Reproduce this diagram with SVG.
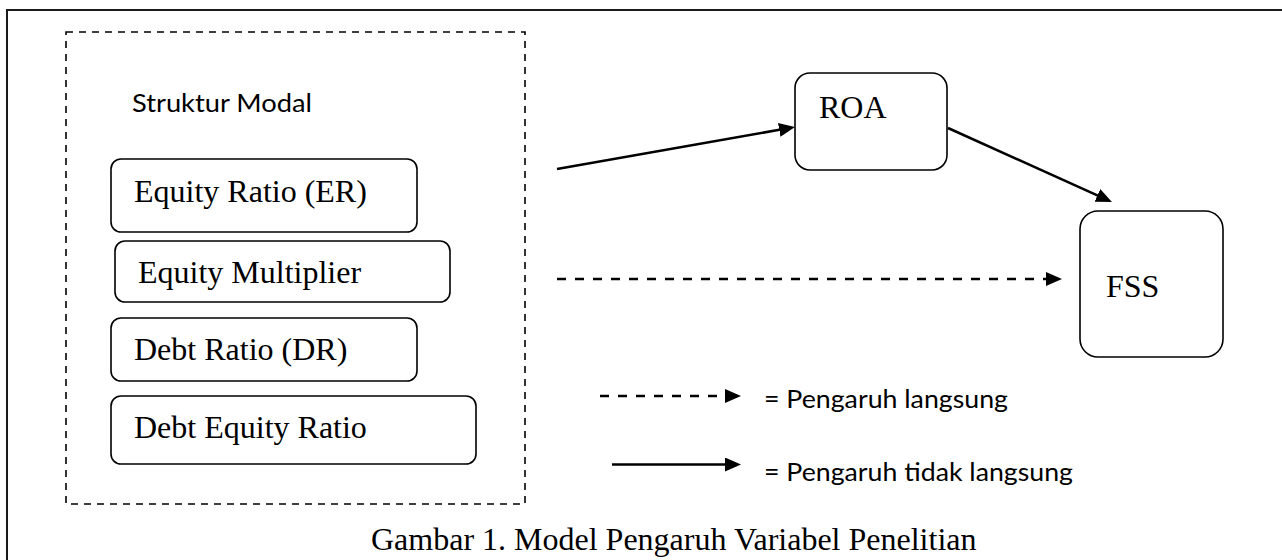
<svg xmlns="http://www.w3.org/2000/svg" width="1282" height="560" viewBox="0 0 1282 560">
  <defs>
    <style>
      .frame { fill: none; stroke: #1a1a1a; stroke-width: 2; }
      .group-box { fill: none; stroke: #000; stroke-width: 1.6; stroke-dasharray: 7 6; }
      .box { fill: #fff; stroke: #000; stroke-width: 1.6; }
      .serif { font-family: "Liberation Serif", "Times New Roman", serif; font-size: 32px; fill: #000; }
      .sans { font-family: Lato, "Open Sans", "Liberation Sans", sans-serif; font-size: 25px; fill: #000; }
      .solid { fill: none; stroke: #000; stroke-width: 2.5; marker-end: url(#head); }
      .dashed { fill: none; stroke: #000; stroke-width: 2.5; stroke-dasharray: 9 9; marker-end: url(#head); }
    </style>
    <marker id="head" viewBox="0 0 16 14" refX="3" refY="7" markerWidth="16" markerHeight="14" markerUnits="userSpaceOnUse" orient="auto">
      <path d="M0,0 L16,7 L0,14 Z" fill="#000"/>
    </marker>
  </defs>

  <rect width="1282" height="560" fill="#fff"/>

  <!-- outer frame, running past the right and bottom edges -->
  <rect class="frame" x="7" y="10" width="1300" height="600"/>

  <!-- capital structure group -->
  <g id="struktur-modal">
    <rect class="group-box" x="66" y="32" width="459" height="472"/>
    <text class="sans" x="132" y="112" textLength="180" lengthAdjust="spacingAndGlyphs">Struktur Modal</text>
  </g>

  <g id="equity-ratio">
    <rect class="box" x="111" y="159" width="306" height="73" rx="10"/>
    <text class="serif" x="134" y="202">Equity Ratio (ER)</text>
  </g>

  <g id="equity-multiplier">
    <rect class="box" x="115" y="241" width="335" height="61" rx="10"/>
    <text class="serif" x="138" y="283">Equity Multiplier</text>
  </g>

  <g id="debt-ratio">
    <rect class="box" x="111" y="318" width="306" height="63" rx="10"/>
    <text class="serif" x="134" y="360">Debt Ratio (DR)</text>
  </g>

  <g id="debt-equity-ratio">
    <rect class="box" x="111" y="396" width="365" height="68" rx="10"/>
    <text class="serif" x="134" y="438">Debt Equity Ratio</text>
  </g>

  <g id="roa">
    <rect class="box" x="795" y="73" width="152" height="97" rx="15"/>
    <text class="serif" x="819" y="118">ROA</text>
  </g>

  <g id="fss">
    <rect class="box" x="1080" y="211" width="143" height="146" rx="18"/>
    <text class="serif" x="1106" y="297">FSS</text>
  </g>

  <!-- connectors -->
  <g id="connectors">
    <line class="solid" x1="557" y1="169" x2="782.2" y2="129.3"/>
    <line class="solid" x1="948" y1="128" x2="1100.1" y2="196.7"/>
    <line class="dashed" x1="557" y1="279" x2="1049" y2="279"/>
  </g>

  <!-- legend -->
  <g id="legend">
    <line class="dashed" x1="600" y1="396" x2="728" y2="396"/>
    <text class="sans" x="764" y="408" textLength="244" lengthAdjust="spacingAndGlyphs">= Pengaruh langsung</text>
    <line class="solid" x1="612" y1="464.5" x2="728" y2="464.5"/>
    <text class="sans" x="764" y="481" textLength="309" lengthAdjust="spacingAndGlyphs">= Pengaruh tidak langsung</text>
  </g>

  <g id="caption">
    <text class="serif" x="371" y="550">Gambar 1. Model Pengaruh Variabel Penelitian</text>
  </g>
</svg>
